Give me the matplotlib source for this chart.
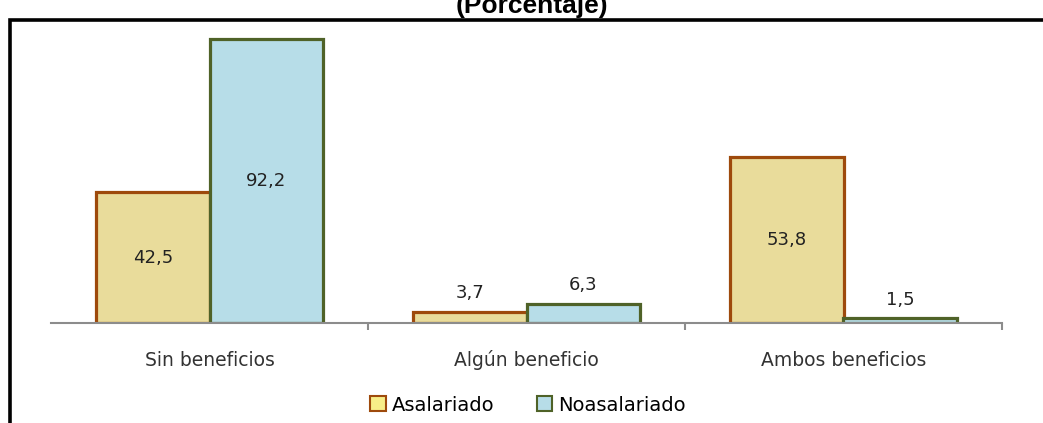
import numpy as np
import matplotlib
matplotlib.use("Agg")
import matplotlib.pyplot as plt
from matplotlib.patches import Patch, Rectangle

categories = ["Sin beneficios", "Algún beneficio", "Ambos beneficios"]
asalariado = [42.5, 3.7, 53.8]
no_asalariado = [92.2, 6.3, 1.5]
series_names = ["Asalariado", "Noasalariado"]
title = "(Porcentaje)"

W, H = 1043, 423
fig = plt.figure(figsize=(W / 100, H / 100), dpi=100)

# axes placed in pixel terms: x 51..1002, y 15..323
ax = fig.add_axes([51 / W, (H - 323) / H, (1002 - 51) / W, (323 - 15) / H])

x = np.arange(len(categories))
bw = 0.358
fill_a, edge_a = "#E9DC9B", "#9E4A0C"
fill_n, edge_n = "#B7DDE8", "#4F6228"

bars_a = ax.bar(x - bw / 2, asalariado, bw, color=fill_a, edgecolor=edge_a, linewidth=2.3)
bars_n = ax.bar(x + bw / 2, no_asalariado, bw, color=fill_n, edgecolor=edge_n, linewidth=2.3)

ax.set_xlim(-0.5, 2.5)
ax.set_ylim(0, 100)

def fmt(v):
    return f"{v:.1f}".replace(".", ",")

for bars in (bars_a, bars_n):
    for b in bars:
        v = b.get_height()
        cx = b.get_x() + b.get_width() / 2
        if v > 20:
            ax.text(cx, v / 2, fmt(v), ha="center", va="center", fontsize=13, color="#222222")
        else:
            ax.annotate(fmt(v), (cx, v), xytext=(0, 7), textcoords="offset points",
                        ha="center", va="bottom", fontsize=13, color="#222222")

for s in ["top", "right", "left"]:
    ax.spines[s].set_visible(False)
ax.spines["bottom"].set_color("#8c8c8c")
ax.spines["bottom"].set_linewidth(1.5)
ax.set_yticks([])
ax.set_xticks([0.5, 1.5, 2.5])
ax.set_xticklabels([])
ax.tick_params(axis="x", length=5, width=1.5, color="#8c8c8c")
for xi, c in zip(x, categories):
    ax.annotate(c, (xi, 0), xycoords=("data", "axes fraction"), xytext=(0, -37),
                textcoords="offset pixels", ha="center", va="center", fontsize=13.5, color="#333333")

handles = [Patch(facecolor="#F7EE88", edgecolor=edge_a, linewidth=1.5),
           Patch(facecolor=fill_n, edgecolor=edge_n, linewidth=1.5)]
fig.legend(handles, series_names, loc="center", bbox_to_anchor=(528 / W, 1 - 405 / H),
           ncol=2, frameon=False, fontsize=14, handlelength=0.8, handleheight=0.8,
           handletextpad=0.3, columnspacing=2.2)

# frame around the chart
fig.patches.append(Rectangle((10 / W, -0.2), 2.0, 1 - 20 / H + 0.2, transform=fig.transFigure,
                             fill=False, edgecolor="black", linewidth=2.6))

# title sits partly above the top edge, as in the original
fig.text(532 / W, 1 - 13 / H, title, ha="center", va="baseline", fontsize=19,
         fontweight="bold", family="Liberation Sans")

fig.savefig("out.png", dpi=100)
